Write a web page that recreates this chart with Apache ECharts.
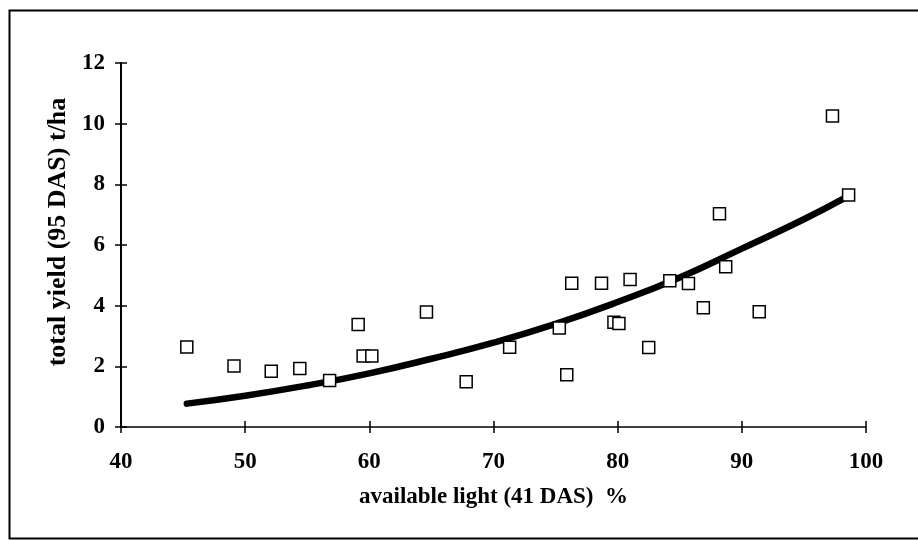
<!DOCTYPE html>
<html>
<head>
<meta charset="utf-8">
<script src="https://cdn.jsdelivr.net/npm/echarts@6/dist/echarts.min.js"></script>
<style>
html,body{margin:0;padding:0;background:#fff;}
#c{width:918px;height:540px;}
</style>
</head>
<body>
<div id="c"></div>
<script>
// Observed points: available light (41 DAS) % and total yield (95 DAS) t/ha
var lightX = [45.3, 49.1, 52.1, 54.4, 56.8, 59.1, 59.5, 60.2, 64.6, 67.8, 71.3, 75.3, 75.9, 76.3, 78.7, 79.7, 80.1, 81.0, 82.5, 84.2, 85.7, 86.9, 88.2, 88.7, 91.4, 97.3, 98.6];
var yieldY = [2.64, 2.01, 1.84, 1.93, 1.53, 3.38, 2.34, 2.34, 3.79, 1.49, 2.63, 3.26, 1.72, 4.74, 4.74, 3.45, 3.41, 4.86, 2.62, 4.82, 4.73, 3.93, 7.03, 5.28, 3.80, 10.25, 7.65];
// Trend curve
var curveX = [45.3, 50, 55, 60, 65, 70, 75, 80, 85, 90, 95, 98.6];
var curveY = [0.77, 1.03, 1.37, 1.77, 2.25, 2.78, 3.40, 4.12, 4.93, 5.88, 6.85, 7.62];
var xTicks = [40, 50, 60, 70, 80, 90, 100];
var yTicks = [0, 2, 4, 6, 8, 10, 12];
var xTitle = 'available light (41 DAS)  %';
var yTitle = 'total yield (95 DAS) t/ha';

var pts = lightX.map(function (x, i) { return [x, yieldY[i]]; });
var curve = curveX.map(function (x, i) { return [x, curveY[i]]; });

var font = '"Liberation Serif", "DejaVu Serif", serif';
var fs = 23;
var chart = echarts.init(document.getElementById('c'), null, {renderer: 'canvas'});

function xAx(inside, show) {
  return {
    type: 'value', min: xTicks[0], max: xTicks[xTicks.length - 1], interval: 10,
    position: 'bottom',
    axisLine: {show: show, onZero: false, lineStyle: {color: '#000', width: 1.5}},
    axisTick: {show: true, inside: inside, length: 6, lineStyle: {color: '#000', width: 1.5}},
    axisLabel: {show: show, margin: 24, color: '#000', fontFamily: font, fontWeight: 'bold', fontSize: fs},
    splitLine: {show: false},
    name: show ? xTitle : '', nameLocation: 'middle', nameGap: 59,
    nameTextStyle: {color: '#000', fontFamily: font, fontWeight: 'bold', fontSize: fs}
  };
}
function yAx(inside, show) {
  return {
    type: 'value', min: yTicks[0], max: yTicks[yTicks.length - 1], interval: 2,
    position: 'left',
    axisLine: {show: show, onZero: false, lineStyle: {color: '#000', width: 2}},
    axisTick: {show: true, inside: inside, length: 6, lineStyle: {color: '#000', width: 1.5}},
    axisLabel: {show: show, margin: 16, color: '#000', fontFamily: font, fontWeight: 'bold', fontSize: fs},
    splitLine: {show: false},
    name: show ? yTitle : '', nameLocation: 'middle', nameGap: 46,
    nameTextStyle: {color: '#000', fontFamily: font, fontWeight: 'bold', fontSize: 26, padding: [0, 0, 0, 26]}
  };
}

chart.setOption({
  animation: false,
  backgroundColor: '#fff',
  grid: {left: 121, right: 52, top: 63, bottom: 113, containLabel: false},
  xAxis: [xAx(false, true), xAx(true, false)],
  yAxis: [yAx(false, true), yAx(true, false)],
  graphic: [{
    type: 'rect', left: 7, top: 8, z: -1, silent: true,
    shape: {width: 930, height: 528},
    style: {fill: 'none', stroke: '#000', lineWidth: 2}
  }],
  series: [{
    type: 'line', data: curve, smooth: true, showSymbol: false, symbol: 'none',
    lineStyle: {color: '#000', width: 6.5, cap: 'round'}, z: 2
  }, {
    type: 'scatter', data: pts, symbol: 'rect', symbolSize: 12,
    itemStyle: {color: '#fff', borderColor: '#000', borderWidth: 1.5, opacity: 1}, z: 3
  }]
});
</script>
</body>
</html>
